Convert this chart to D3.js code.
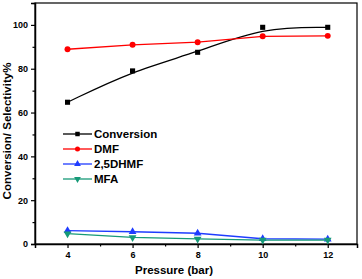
<!DOCTYPE html>
<html>
<head>
<meta charset="utf-8">
<script src="https://cdn.jsdelivr.net/npm/d3@7"></script>
<style>
  body { margin: 0; background: #fff; }
  svg { display: block; font-family: Arial, "Liberation Sans", sans-serif; }
  .tick text { font-weight: bold; font-size: 9px; }
</style>
</head>
<body>
<div id="chart"></div>
<script>
// data
const pressure = [4, 6, 8, 10, 12];
const conversion = [64.7, 79.0, 87.5, 98.9, 98.9];
const dmf = [88.9, 90.9, 92.1, 94.8, 95.0];
const dhmf = [6.1, 5.6, 4.9, 2.4, 2.2];
const mfa = [4.7, 3.0, 2.3, 1.8, 1.8];
const seriesNames = ["Conversion", "DMF", "2,5DHMF", "MFA"];
const xTicks = [4, 6, 8, 10, 12];
const yTicks = [0, 20, 40, 60, 80, 100];

const series = [
  { name: seriesNames[0], values: conversion, color: "#000000", shape: d3.symbolSquare, curve: d3.curveBasis },
  { name: seriesNames[1], values: dmf, color: "#ff0000", shape: d3.symbolCircle, curve: d3.curveLinear },
  { name: seriesNames[2], values: dhmf, color: "#1f3cff", shape: d3.symbolTriangle, curve: d3.curveLinear },
  { name: seriesNames[3], values: mfa, color: "#169a78", shape: "down", curve: d3.curveLinear },
];

//size
const width = 362, height = 279;
const margin = { top: 3, right: 5, bottom: 35, left: 35 };

const x = d3.scaleLinear().domain([3, 12.9]).range([margin.left, width - margin.right]);
const y = d3.scaleLinear().domain([0, 110]).range([height - margin.bottom, margin.top]);

const svg = d3.select("#chart").append("svg")
  .attr("width", width).attr("height", height);

// frame
svg.append("rect")
  .attr("x", margin.left).attr("y", margin.top)
  .attr("width", width - margin.left - margin.right)
  .attr("height", height - margin.top - margin.bottom)
  .attr("fill", "none").attr("stroke", "#000").attr("stroke-width", 1.2);

// axes
svg.append("g")
  .attr("transform", `translate(0,${y(0)})`)
  .call(d3.axisBottom(x).tickValues(xTicks).tickSize(4).tickPadding(4).tickFormat(d3.format("d")));
svg.append("g")
  .attr("transform", `translate(0,${y(0)})`)
  .call(d3.axisBottom(x).tickValues([5, 7, 9, 11]).tickSize(2.5).tickFormat(""))
  .call(g => g.select(".domain").remove());

svg.append("g")
  .attr("transform", `translate(${margin.left},0)`)
  .call(d3.axisLeft(y).tickValues(yTicks).tickSize(4).tickPadding(3));
svg.append("g")
  .attr("transform", `translate(${margin.left},0)`)
  .call(d3.axisLeft(y).tickValues([10, 30, 50, 70, 90, 110]).tickSize(2.5).tickFormat(""))
  .call(g => g.select(".domain").remove());

svg.selectAll(".domain").attr("stroke-width", 1.5);
svg.selectAll(".tick line").attr("stroke-width", 1.2);

// titles
svg.append("text")
  .attr("x", 174).attr("y", 274)
  .attr("text-anchor", "middle")
  .attr("font-weight", "bold").attr("font-size", 11.5)
  .text("Pressure (bar)");

svg.append("text")
  .attr("transform", `translate(11,${131}) rotate(-90)`)
  .attr("text-anchor", "middle")
  .attr("font-weight", "bold").attr("font-size", 11.5)
  .text("Conversion/ Selectivity%");

function marker(shape, size) {
  if (shape === "down") {
    return d3.symbol().type(d3.symbolTriangle).size(size)();
  }
  return d3.symbol().type(shape).size(size)();
}

// lines + markers
series.forEach((s) => {
  const pts = pressure.map((p, i) => ({ x: p, y: s.values[i] }));
  svg.append("path")
    .datum(pts)
    .attr("fill", "none")
    .attr("stroke", s.color)
    .attr("stroke-width", 1.3)
    .attr("d", d3.line().x((d) => x(d.x)).y((d) => y(d.y)).curve(s.curve));

  svg.selectAll(null)
    .data(pts)
    .join("path")
    .attr("fill", s.color)
    .attr("transform", (d) => `translate(${x(d.x)},${y(d.y)})` + (s.shape === "down" ? " rotate(180)" : ""))
    .attr("d", marker(s.shape, s.shape === d3.symbolCircle ? 28 : 26));
});

// legend
const legend = svg.append("g").attr("class", "legend");
const item = legend.selectAll("g.legend-item")
  .data(series)
  .join("g")
  .attr("class", "legend-item")
  .attr("transform", (d, i) => `translate(63,${134 + i * 15})`);

item.append("line")
  .attr("x1", 0).attr("x2", 29)
  .attr("stroke", (d) => d.color).attr("stroke-width", 1.3);
item.append("path")
  .attr("fill", (d) => d.color)
  .attr("transform", (d) => `translate(14.5,0)` + (d.shape === "down" ? " rotate(180)" : ""))
  .attr("d", (d) => marker(d.shape, 20));
item.append("text")
  .attr("x", 31).attr("dy", "0.35em")
  .attr("font-weight", "bold").attr("font-size", 11.5)
  .text((d) => d.name);
</script>
</body>
</html>
